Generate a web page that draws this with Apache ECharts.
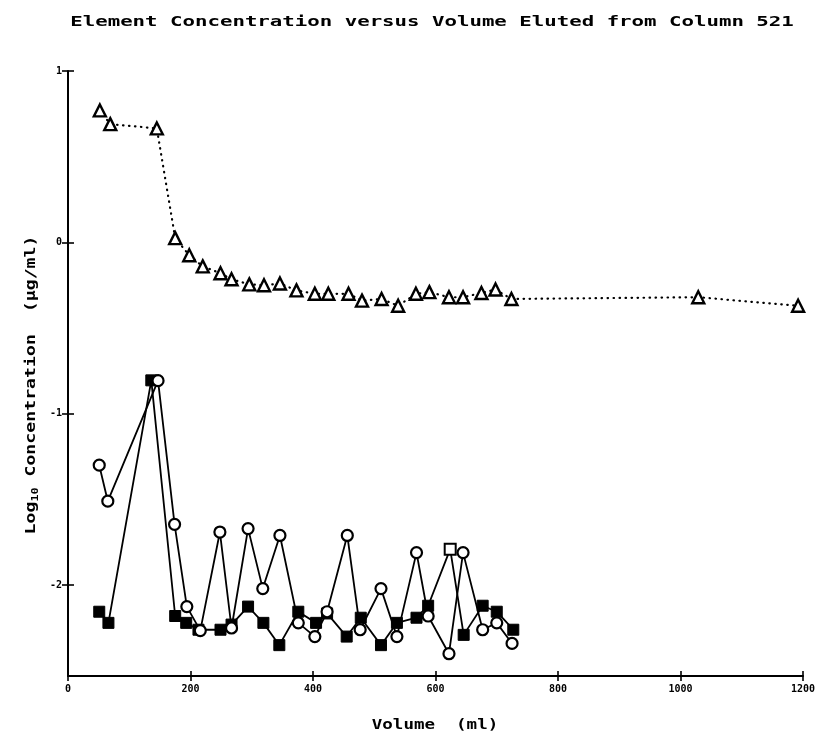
<!DOCTYPE html>
<html>
<head>
<meta charset="utf-8">
<title>Element Concentration versus Volume Eluted from Column 521</title>
<script src="https://cdn.jsdelivr.net/npm/echarts@6/dist/echarts.min.js"></script>
<style>
  html, body { margin: 0; padding: 0; background: #fff; }
  #chart { width: 821px; height: 746px; }
</style>
</head>
<body>
<div id="chart"></div>
<script>
// Volume eluted (ml) and log10 concentration (µg/ml) for each element trace
const triangleVolume = [52, 69, 145, 175, 198, 220, 249, 267, 296, 320, 346, 373, 403, 425, 458, 480, 512, 539, 568, 590, 622, 645, 675, 698, 724, 1029, 1192];
const triangleLogConc = [0.77, 0.69, 0.665, 0.025, -0.075, -0.14, -0.18, -0.215, -0.245, -0.25, -0.24, -0.28, -0.30, -0.30, -0.30, -0.34, -0.33, -0.37, -0.30, -0.29, -0.32, -0.32, -0.295, -0.275, -0.33, -0.32, -0.37];

const circleVolume = [51, 65, 147, 174, 194, 216, 248, 267, 294, 318, 346, 376, 403, 423, 456, 477, 511, 537, 569, 588, 622, 645, 677, 700, 725];
const circleLogConc = [-1.30, -1.51, -0.807, -1.645, -2.125, -2.265, -1.69, -2.25, -1.67, -2.02, -1.71, -2.22, -2.30, -2.155, -1.71, -2.26, -2.02, -2.30, -1.81, -2.18, -2.40, -1.81, -2.26, -2.22, -2.34];

const squareVolume = [51, 66, 136, 175, 193, 213, 249, 267, 294, 319, 345, 376, 405, 423, 455, 478, 511, 537, 569, 588, 624, 646, 677, 700, 727];
const squareLogConc = [-2.155, -2.22, -0.805, -2.18, -2.22, -2.26, -2.26, -2.23, -2.125, -2.22, -2.35, -2.155, -2.22, -2.165, -2.30, -2.19, -2.35, -2.22, -2.19, -2.12, -1.79, -2.29, -2.12, -2.155, -2.26];
// the square sample drawn hollow
const hollowSquareVolume = [624];

const xTicks = [0, 200, 400, 600, 800, 1000, 1200];
const yTicks = [-2, -1, 0, 1];

const titleText = 'Element Concentration versus Volume Eluted from Column 521';
const xName = 'Volume  (ml)';

const FONT = '"DejaVu Sans Mono", "Liberation Mono", monospace';

const pairs = (xs, ys) => xs.map((x, i) => [x, ys[i]]);

const squareData = pairs(squareVolume, squareLogConc).map(p =>
  hollowSquareVolume.includes(p[0])
    ? { value: p, itemStyle: { color: '#fff', borderColor: '#000', borderWidth: 2 } }
    : p
);

const chart = echarts.init(document.getElementById('chart'), null, { renderer: 'canvas' });

const baseX = {
  type: 'value', min: 0, max: 1200, interval: 200,
  splitLine: { show: false }
};
const baseY = {
  type: 'value', min: -2.53, max: 1,
  splitLine: { show: false }
};
const plain = v => String(v);

chart.setOption({
  animation: false,
  backgroundColor: '#fff',
  grid: { left: 68, right: 18, top: 71, bottom: 70 },
  xAxis: [
    Object.assign({}, baseX, {
      position: 'bottom',
      axisLine: { show: true, onZero: false, lineStyle: { color: '#000', width: 2 } },
      axisTick: { show: true, length: 5, lineStyle: { color: '#000', width: 1.6 }, customValues: xTicks },
      axisLabel: { show: true, color: '#000', fontFamily: FONT, fontWeight: 'bold', fontSize: 10, margin: 8, customValues: xTicks, formatter: plain }
    }),
    Object.assign({}, baseX, {
      position: 'bottom',
      axisLine: { show: false, onZero: false },
      axisTick: { show: true, inside: true, length: 5, lineStyle: { color: '#000', width: 1.6 }, customValues: xTicks },
      axisLabel: { show: false }
    })
  ],
  yAxis: [
    Object.assign({}, baseY, {
      position: 'left',
      axisLine: { show: true, onZero: false, lineStyle: { color: '#000', width: 2 } },
      axisTick: { show: true, length: 6, lineStyle: { color: '#000', width: 1.6 }, customValues: yTicks },
      axisLabel: { show: true, color: '#000', fontFamily: FONT, fontWeight: 'bold', fontSize: 10, margin: 6, customValues: yTicks, formatter: plain }
    }),
    Object.assign({}, baseY, {
      position: 'left',
      axisLine: { show: false, onZero: false },
      axisTick: { show: true, inside: true, length: 6, lineStyle: { color: '#000', width: 1.6 }, customValues: yTicks },
      axisLabel: { show: false }
    })
  ],
  graphic: [
    {
      type: 'text', x: 432, y: 22, scaleX: 1.48,
      style: { text: titleText, fill: '#000', font: 'bold 14px ' + FONT, textAlign: 'center', textVerticalAlign: 'middle' }
    },
    {
      type: 'text', x: 435, y: 725, scaleX: 1.25,
      style: { text: xName, fill: '#000', font: 'bold 14px ' + FONT, textAlign: 'center', textVerticalAlign: 'middle' }
    },
    {
      type: 'text', x: 31, y: 385, rotation: Math.PI / 2, scaleX: 1.3,
      style: {
        text: '{m|Log}{s|10}{m| Concentration  (µg/ml)}',
        fill: '#000', textAlign: 'center', textVerticalAlign: 'middle',
        rich: {
          m: { fontFamily: FONT, fontWeight: 'bold', fontSize: 14, lineHeight: 22, fill: '#000', verticalAlign: 'middle' },
          s: { fontFamily: FONT, fontWeight: 'bold', fontSize: 9, lineHeight: 22, fill: '#000', padding: [10, 0, 0, 0], verticalAlign: 'middle' }
        }
      }
    }
  ],
  series: [
    {
      name: 'triangles', type: 'line', xAxisIndex: 0, yAxisIndex: 0,
      data: pairs(triangleVolume, triangleLogConc),
      symbol: 'triangle', symbolSize: 12,
      itemStyle: { color: '#fff', borderColor: '#000', borderWidth: 2.4 },
      lineStyle: { color: '#000', width: 2.2, type: [0.5, 5.5], cap: 'round' },
      z: 3
    },
    {
      name: 'squares', type: 'line', xAxisIndex: 0, yAxisIndex: 0,
      data: squareData,
      symbol: 'rect', symbolSize: 11,
      itemStyle: { color: '#000', borderColor: '#000', borderWidth: 1 },
      lineStyle: { color: '#000', width: 1.8 },
      z: 4
    },
    {
      name: 'circles', type: 'line', xAxisIndex: 0, yAxisIndex: 0,
      data: pairs(circleVolume, circleLogConc),
      symbol: 'circle', symbolSize: 11,
      itemStyle: { color: '#fff', borderColor: '#000', borderWidth: 2.2 },
      lineStyle: { color: '#000', width: 1.8 },
      z: 5
    }
  ]
});
</script>
</body>
</html>
